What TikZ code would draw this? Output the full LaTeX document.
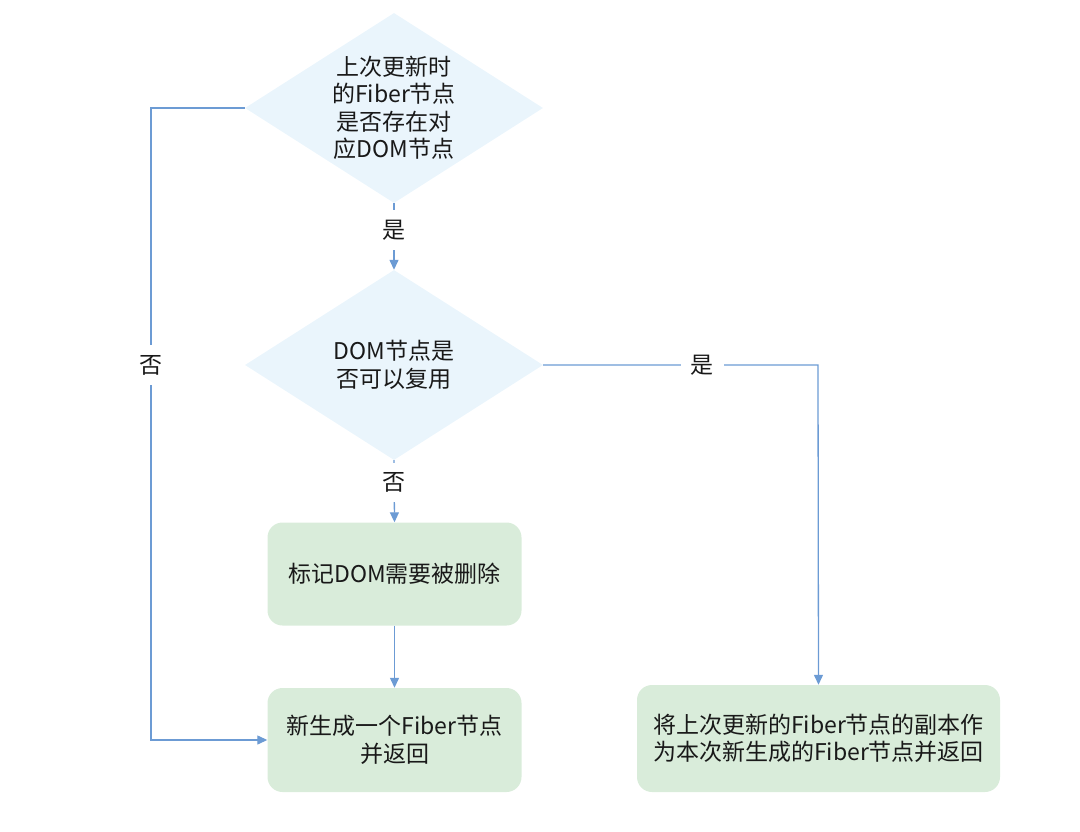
\documentclass[tikz,border=0pt]{standalone}
\usepackage{fontspec}
\setmainfont{Noto Sans CJK SC}
\usetikzlibrary{shapes.geometric,arrows.meta}
\definecolor{lineblue}{HTML}{6C9BD4}
\definecolor{dfill}{HTML}{EAF5FC}
\definecolor{bfill}{HTML}{D9ECDA}
\tikzset{
  txt/.style={font=\fontsize{23}{27.5}\selectfont, text=black!90, align=center},
  dec/.style={diamond, txt, fill=dfill, aspect=1.57, inner sep=0pt, minimum width=298pt, minimum height=190pt},
  stepbox/.style={rectangle, txt, fill=bfill, rounded corners=15pt, inner sep=0pt},
  flow/.style={draw=lineblue, line width=1.3pt, line join=miter, -{Triangle[length=10pt,width=9pt]}},
  lbl/.style={txt, fill=white, inner sep=10pt}
}
\begin{document}
\begin{tikzpicture}[x=1pt,y=-1pt]
\useasboundingbox (0,0) rectangle (1080,832);
\node[dec] (d1) at (394,108) {上次更新时\\的Fiber节点\\是否存在对\\应DOM节点};
\node[dec] (d2) at (394,365) {DOM节点是\\否可以复用};
\node[stepbox, minimum width=254pt, minimum height=103pt] (b1) at (394.5,574) {标记DOM需要被删除};
\node[stepbox, minimum width=254pt, minimum height=104pt] (b2) at (394.5,740) {新生成一个Fiber节点\\并返回};
\node[stepbox, minimum width=363pt, minimum height=107pt] (b3) at (818.5,738.5) {将上次更新的Fiber节点的副本作\\为本次新生成的Fiber节点并返回};
\coordinate (l1) at (151,108);
\coordinate (l2) at (151,740);
\coordinate (r1) at (818,365);
\draw[flow] (d1.south) -- node[lbl, pos=0.4] {是} (d2.north);
\draw[flow] (d2.south) -- node[lbl, pos=0.36] {否} (b1.north);
\draw[flow] (b1.south) -- (b2.north);
\draw[flow] (d1.west) -- (l1) -- node[lbl, pos=0.407] {否} (l2) -- (b2.west);
\draw[flow] (d2.east) -- node[lbl, pos=0.578] {是} (r1) -- (b3.north);
\end{tikzpicture}
\end{document}
